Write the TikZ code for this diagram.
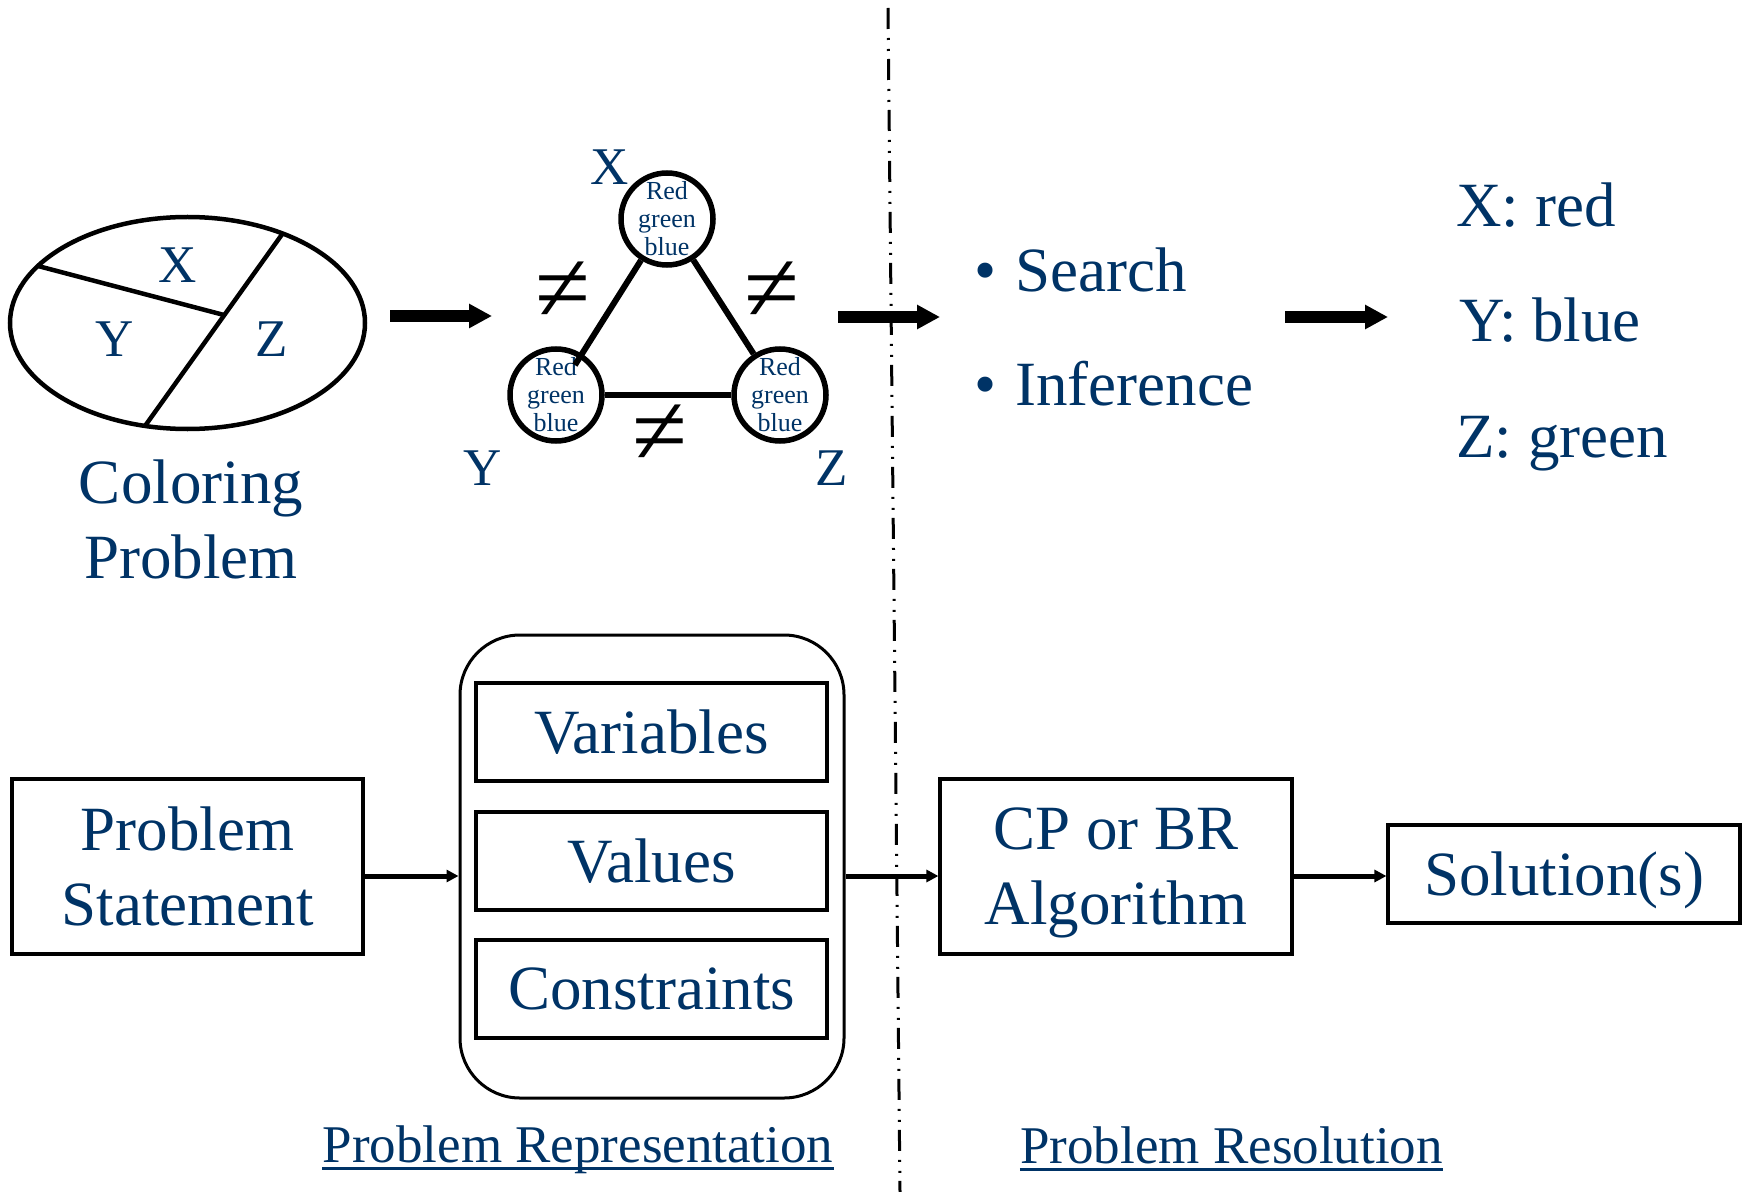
\documentclass[tikz,border=0pt]{standalone}
\usepackage{fontspec}
\setmainfont{Liberation Serif}
\usetikzlibrary{arrows.meta,calc}
\definecolor{navy}{RGB}{0,51,102}
\newcommand\myfs[2]{\fontsize{#1}{#2}\selectfont}
\begin{document}
\begin{tikzpicture}[x=0.5pt,y=-0.5pt,
  txt/.style={text=navy, inner sep=0pt},
  big/.style={txt, font=\myfs{31.5}{37.5}, align=center},
  lab/.style={txt, font=\myfs{26.5}{30}},
  uline/.style={txt, font=\myfs{26.5}{30}, anchor=base},
  gtext/.style={txt, font=\myfs{13}{14}, align=center},
  gnode/.style={circle, draw, line width=2.75pt, minimum size=46pt, inner sep=0pt},
  gedge/.style={line width=3pt},
  neqsign/.style={inner sep=0pt, font=\myfs{50}{50}},
  boxnode/.style={draw, line width=1.6pt, big},
  thickarrow/.style={line width=6pt, -{Triangle[length=11.5pt,width=11.5pt]}},
  thinarrow/.style={line width=2.5pt, -{Triangle[length=6pt,width=6pt]}},
  sepline/.style={line width=1.5pt, dash pattern=on 10.5pt off 4.5pt on 1pt off 4.5pt on 1pt off 4pt},
  mapline/.style={line width=2.25pt}
 ]
\useasboundingbox (0,0) rectangle (1748,1192);

% separator
\coordinate (dtop) at (888,8);
\coordinate (dbot) at (900,1192);
\draw[sepline] (dtop) -- (dbot);

% coloring map
\draw[mapline] (187.5,323) ellipse [x radius=88.75pt, y radius=53pt];
\draw[mapline] (283,233) -- (145,426);
\draw[mapline] (38,266) -- (224,315);
\node[lab] (mx) at (178,265) {X};
\node[lab] (my) at (115,339) {Y};
\node[lab] (mz) at (272,339) {Z};
\node[big] (coloring) at (191,519) {Coloring\\Problem};

% constraint graph
\node[gnode, label={[gtext]center:{Red\\green\\blue}}] (gX) at (667,219) {};
\node[gnode, label={[gtext]center:{Red\\green\\blue}}] (gY) at (556,395) {};
\node[gnode, label={[gtext]center:{Red\\green\\blue}}] (gZ) at (780,395) {};
\draw[gedge] (gX) -- ($(gY)!0.17!(gX)$);
\draw[gedge] (gX) -- (gZ);
\draw[gedge] (gY) -- (gZ);
\node[lab] (lX) at (610,167) {X};
\node[lab] (lY) at (483,468) {Y};
\node[lab] (lZ) at (832,468) {Z};
\node[neqsign] (n1) at (563,292) {≠};
\node[neqsign] (n2) at (772,292) {≠};
\node[neqsign] (n3) at (660,435) {≠};

% thick arrows
\coordinate (a1s) at (390,316); \coordinate (a1e) at (492,316);
\coordinate (a2s) at (838,317); \coordinate (a2e) at (940,317);
\coordinate (a3s) at (1285,317); \coordinate (a3e) at (1388,317);
\draw[thickarrow] (a1s) -- (a1e);
\draw[thickarrow] (a2s) -- (a2e);
\draw[thickarrow] (a3s) -- (a3e);

% methods
\node[big, anchor=base west] (search) at (974,292) {•\hspace{0.3em}Search};
\node[big, anchor=base west] (infer) at (974,405) {•\hspace{0.3em}Inference};

% solution
\node[big, anchor=base west] (sx) at (1456,227) {X: red};
\node[big, anchor=base west] (sy) at (1459,342) {Y: blue};
\node[big, anchor=base west] (sz) at (1456,457) {Z: green};

% bottom flow
\node[boxnode, minimum width=175.5pt, minimum height=87.5pt] (ps) at (187.5,866.5) {Problem\\Statement};
\node[draw, line width=1.5pt, rounded corners=30pt, minimum width=192pt, minimum height=231.5pt] (rep) at (652,866.5) {};
\node[boxnode, minimum width=175.5pt, minimum height=49pt] (var) at (651.5,732) {Variables};
\node[boxnode, minimum width=175.5pt, minimum height=49pt] (val) at (651.5,861) {Values};
\node[boxnode, minimum width=175.5pt, minimum height=49pt] (con) at (651.5,989) {Constraints};
\node[boxnode, minimum width=176pt, minimum height=87.5pt, text depth=0pt] (cp) at (1116,866.5) {CP or BR\\Algorithm};
\node[boxnode, minimum width=176pt, minimum height=49pt, text depth=0pt] (sol) at (1564,874) {Solution(s)};

\coordinate (ay) at (0,876);
\draw[thinarrow] (ps.east |- ay) -- (rep.west |- ay);
\draw[thinarrow] (rep.east |- ay) -- (cp.west |- ay);
\draw[thinarrow] (cp.east |- ay) -- (sol.west |- ay);

% bottom labels
\node[uline] (prep) at (578,1162) {Problem Representation};
\node[uline] (pres) at (1231.5,1163) {Problem Resolution};
\draw[navy, line width=1.5pt] ($(prep.base west)+(0,6)$) -- ($(prep.base east)+(0,6)$);
\draw[navy, line width=1.5pt] ($(pres.base west)+(0,6)$) -- ($(pres.base east)+(0,6)$);
\end{tikzpicture}
\end{document}
